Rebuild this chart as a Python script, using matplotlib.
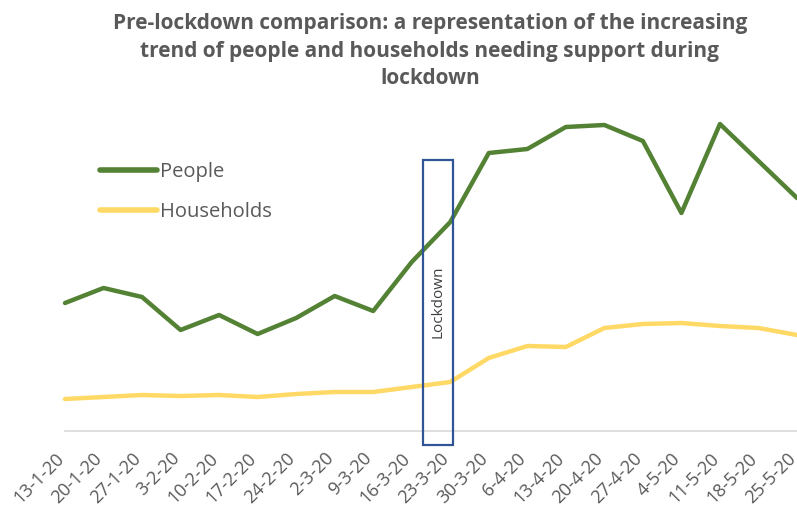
import matplotlib
matplotlib.use("Agg")
import matplotlib.pyplot as plt
from matplotlib.patches import Rectangle
from matplotlib.transforms import ScaledTranslation

weeks = ["13-1-20", "20-1-20", "27-1-20", "3-2-20", "10-2-20", "17-2-20", "24-2-20",
         "2-3-20", "9-3-20", "16-3-20", "23-3-20", "30-3-20", "6-4-20", "13-4-20",
         "20-4-20", "27-4-20", "4-5-20", "11-5-20", "18-5-20", "25-5-20"]
people = [128, 143, 134, 101, 116, 97, 113, 135, 120, 169, 209, 278, 282, 304,
          306, 290, 218, 307, 270, 233]
households = [32, 34, 36, 35, 36, 34, 37, 39, 39, 44, 49, 73, 85, 84, 103, 107,
              108, 105, 103, 96]

GREY = "#595959"
plt.rcParams["font.family"] = ["Open Sans", "DejaVu Sans"]

W, H = 797, 513
fig = plt.figure(figsize=(W / 100, H / 100), dpi=100)
ax = fig.add_axes([65 / W, (H - 431) / H, (797 - 65) / W, (431 - 111) / H])

x = list(range(len(weeks)))
ax.plot(x, people, color="#548235", lw=3.2, solid_capstyle="round",
        solid_joinstyle="round", label="People", clip_on=False, zorder=3)
ax.plot(x, households, color="#FFD966", lw=3.2, solid_capstyle="round",
        solid_joinstyle="round", label="Households", clip_on=False, zorder=3)

ax.set_xlim(0, len(weeks) - 1)
ax.set_ylim(0, 320)
ax.set_yticks([])
for s in ["top", "right", "left"]:
    ax.spines[s].set_visible(False)
ax.spines["bottom"].set_color("#d9d9d9")
ax.spines["bottom"].set_linewidth(1.2)

ax.set_xticks(x)
ax.set_xticklabels(weeks, rotation=45, ha="right", va="center",
                   rotation_mode="anchor", fontsize=13, color=GREY)
ax.tick_params(axis="x", length=0, pad=17)
shift = ScaledTranslation(-4 / 100, -1 / 100, fig.dpi_scale_trans)
for lbl in ax.get_xticklabels():
    lbl.set_transform(lbl.get_transform() + shift)

# Lockdown marker box
box = Rectangle((9.28, -14), 0.78, 285, fill=False, edgecolor="#2F5597",
                lw=1.6, clip_on=False, zorder=4)
ax.add_patch(box)
ax.text(9.67, 129, "Lockdown", rotation=90, ha="center", va="center",
        fontsize=11, color="#404040", zorder=5)

leg = ax.legend(loc="upper left", bbox_to_anchor=(100 / W, (H - 162) / H),
                bbox_transform=fig.transFigure, frameon=False, fontsize=14.5,
                handlelength=2.85, handletextpad=0.15, labelspacing=1.0,
                borderpad=0, borderaxespad=0, labelcolor=GREY)
for h in leg.legend_handles:
    h.set_linewidth(4)

fig.text(430 / W, 1 - 13 / H,
         "Pre-lockdown comparison: a representation of the increasing\n"
         "trend of people and households needing support during\n"
         "lockdown",
         ha="center", va="top", fontsize=15.0, fontweight="bold", color=GREY,
         linespacing=1.42)

fig.savefig("out.png", dpi=100)
